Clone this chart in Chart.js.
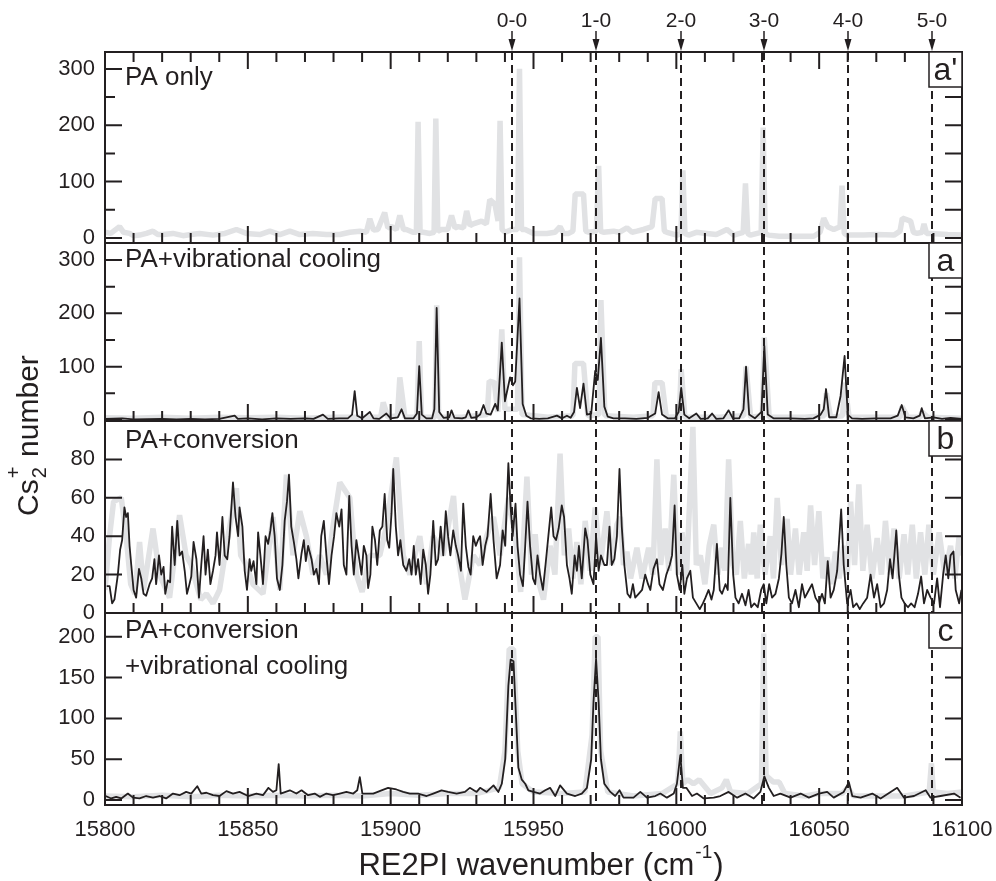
<!DOCTYPE html>
<html>
<head>
<meta charset="utf-8">
<script src="https://cdn.jsdelivr.net/npm/chart.js@4.4.1/dist/chart.umd.min.js"></script>
<style>
  html, body { margin: 0; padding: 0; background: #fff; }
</style>
</head>
<body>
<canvas id="spectra" width="996" height="881"></canvas>
<script>
// wavenumber axis
const xTickValues = [15800, 15850, 15900, 15950, 16000, 16050, 16100];
const bandLabels = ["0-0", "1-0", "2-0", "3-0", "4-0", "5-0"];
const bandPositions = [15942.5, 15971.8, 16001.5, 16030.8, 16060.1, 16089.5];

// y tick values per panel (top to bottom)
const ticksA1 = [0, 100, 200, 300];
const ticksA = [0, 100, 200, 300];
const ticksB = [0, 20, 40, 60, 80];
const ticksC = [0, 50, 100, 150, 200];

// a' : PA only (grey)
const aPrimeGrey = [
  [15800,10],[15802,8],[15805.1,20],[15806.5,10],[15808.6,8],[15810,4],[15812.1,5],[15814.5,8],[15816.8,12],[15818.5,6],
  [15820.3,6],[15823.8,8],[15827.3,4],[15830,6],[15833.1,8],[15837.8,5],[15842,8],[15846,15],[15849.5,8],[15854.2,6],
  [15857.7,12],[15861.2,6],[15864.7,12],[15868.2,6],[15872.8,8],[15877.5,6],[15882.2,6],[15885.7,10],[15889.2,12],[15891.5,10],
  [15892.7,34],[15894,14],[15895.5,15],[15897.9,45],[15899,18],[15900.3,20],[15902,15],[15903.2,40],[15904.5,15],[15905.5,15],
  [15907.8,10],[15909,10],[15909.6,206],[15910.3,10],[15911.4,10],[15913.7,8],[15915.2,10],[15915.8,212],[15916.5,12],[15917.8,15],
  [15920,15],[15921.3,40],[15922.5,18],[15923.6,20],[15925.5,18],[15926.6,48],[15927.8,22],[15928.9,25],[15931.8,30],[15933.5,25],
  [15934.7,68],[15936.5,60],[15937.6,30],[15938.3,208],[15939,15],[15940.1,10],[15942.4,15],[15944.4,15],[15945.1,300],[15945.8,15],
  [15947.1,15],[15950,8],[15954.7,8],[15957.5,10],[15959.3,20],[15960.5,8],[15962.3,8],[15963.8,12],[15964.6,78],[15967.5,78],
  [15968.3,12],[15969.3,10],[15972,12],[15972.8,128],[15973.5,12],[15974.5,10],[15978,12],[15980,10],[15982.7,18],[15984.5,10],
  [15986.2,12],[15988.5,15],[15991.5,20],[15992.6,70],[15995,70],[15995.8,12],[15996.7,10],[16000.2,5],[16001.6,8],[16002.3,120],
  [16003,8],[16004.3,5],[16007,10],[16010.7,8],[16014,6],[16017.7,15],[16020.1,5],[16023.4,10],[16024.2,97],[16025,8],
  [16025.9,5],[16029.7,10],[16030.4,196],[16031.1,8],[16032.3,5],[16036,3],[16042.3,3],[16048.1,3],[16050.3,10],[16051.6,35],
  [16053,20],[16055.1,15],[16057.3,20],[16058,93],[16058.8,8],[16059.8,5],[16065.6,5],[16070,6],[16076.2,5],[16078.3,12],
  [16079.1,35],[16082,30],[16083,10],[16084.3,8],[16086,10],[16086.7,25],[16087.6,8],[16089,8],[16095,6],[16100,5]
];

// a : PA + vibrational cooling
const aGrey = [
  [15800,4],[15810,3],[15820,5],[15830,3],[15840,5],[15850,4],[15860,5],[15870,3],[15880,5],[15890,5],
  [15896.5,5],[15897.4,33],[15899,5],[15902.4,8],[15903.2,80],[15905,5],[15909.2,5],[15910,148],[15910.8,5],[15915.5,5],
  [15916.1,215],[15916.8,5],[15925,5],[15930,8],[15933.8,10],[15934.5,73],[15936.3,70],[15937.5,15],[15938.9,170],[15940,20],
  [15944.4,20],[15945.1,305],[15946,10],[15955,5],[15963.8,8],[15964.5,106],[15967.5,106],[15969,8],[15972.9,10],[15973.6,225],
  [15975,8],[15985,5],[15991.8,8],[15992.5,70],[15995,70],[15996.5,5],[16001,6],[16001.7,95],[16003,5],[16015,5],
  [16023.6,8],[16024.4,100],[16026,5],[16030.1,8],[16030.8,155],[16032.5,5],[16045,5],[16051.8,8],[16052.5,50],[16054,5],
  [16058.2,8],[16058.9,70],[16060.5,5],[16070,5],[16078.3,5],[16079,25],[16081,5],[16085.3,5],[16086,15],[16088,5],[16100,3]
];
const aBlack = [
  [15800,2],[15806,3],[15810,1],[15820,2],[15825,1],[15830,2],[15835,1],[15840,2],[15845.4,8],[15846.5,2],
  [15850,3],[15855,1],[15860,3],[15865,2],[15870,3],[15873,2],[15876.3,10],[15878,2],[15882,3],[15885,3],
  [15886.5,10],[15887.4,54],[15888.3,8],[15890,3],[15892.7,15],[15894,3],[15896,2],[15898.5,12],[15900,3],[15902.5,5],
  [15903.8,20],[15905,3],[15908,3],[15909.2,12],[15910,101],[15910.9,10],[15912.5,3],[15914.5,3],[15915.3,20],[15916.1,210],
  [15917,15],[15918.5,4],[15920.5,5],[15921.3,18],[15922.3,4],[15925,3],[15926.3,5],[15927.2,18],[15928.2,4],[15930,5],
  [15931.3,10],[15932.5,28],[15933.5,12],[15935,10],[15936.6,30],[15937.5,18],[15938.9,145],[15940,35],[15941,60],[15941.8,80],
  [15942.8,65],[15943.6,72],[15945.1,228],[15946.2,30],[15947.5,8],[15949,3],[15952,2],[15955,3],[15958.2,8],[15960,3],
  [15961.7,8],[15963,4],[15964.2,15],[15965.2,60],[15966.3,22],[15967.5,68],[15968.7,10],[15970.2,12],[15971.6,92],[15972.5,75],
  [15973.6,154],[15974.8,25],[15976,6],[15978,3],[15982,3],[15986,2],[15990,4],[15992.6,12],[15993.8,52],[15995,10],
  [15997,3],[15999.5,3],[16000.8,15],[16001.7,60],[16002.8,10],[16004.5,3],[16007,12],[16008.5,2],[16011,3],[16012.5,12],
  [16014,2],[16016.5,3],[16018.3,18],[16019.8,3],[16022,3],[16023.5,20],[16024.4,100],[16025.5,10],[16027.5,3],[16029.8,15],
  [16030.8,139],[16032,10],[16034,3],[16040,3],[16045,2],[16048,3],[16050.5,10],[16051.6,20],[16052.4,58],[16053.5,5],
  [16056,5],[16057.5,45],[16058.9,120],[16060,10],[16061.5,3],[16065,2],[16070,3],[16075,3],[16077.5,8],[16078.9,28],
  [16080.2,5],[16083,3],[16085.2,8],[16085.9,22],[16087,3],[16090,5],[16093,2],[16096,4],[16100,2]
];

// b : PA + conversion
const bGrey = [
  [15800,12],[15801.6,40],[15803,58],[15805.7,60],[15807.4,40],[15809,15],[15810.5,10],[15812.1,37],[15813.5,12],[15816.8,44],
  [15819.1,20],[15822.6,8],[15826.1,51],[15828.4,30],[15830.2,25],[15832,15],[15833.5,7],[15835.5,10],[15837.8,5],[15840.1,12],
  [15842.5,35],[15846,65],[15847.5,30],[15849.5,25],[15851.8,15],[15855.3,10],[15858.8,50],[15861.2,12],[15863.5,72],[15865.8,30],
  [15868.2,53],[15870.5,40],[15872.8,20],[15875.2,30],[15877.5,20],[15879.8,45],[15882.2,68],[15885.7,60],[15888,20],[15890,11],
  [15892.7,30],[15896.2,30],[15898.5,45],[15902,81],[15904.4,30],[15906.7,20],[15910.2,40],[15912.6,15],[15914.9,40],[15918.4,30],
  [15920.7,50],[15922,61],[15923.5,30],[15926,7],[15928.9,30],[15931.3,25],[15933.6,40],[15936,50],[15938.3,30],[15941.2,60],
  [15943.6,41],[15945.5,11],[15947.7,71],[15949.3,20],[15950.6,41],[15952,15],[15953.5,7],[15955.8,35],[15957.5,20],[15959.3,83],
  [15960.8,30],[15962.3,44],[15963.8,18],[15965.2,37],[15966.6,15],[15968.1,48],[15969.8,22],[15971.6,55],[15973.4,25],[15975.7,53],
  [15977.4,25],[15979.2,46],[15980.4,50],[15981.5,25],[15982.7,32],[15984,18],[15986.2,34],[15988,18],[15990.3,34],[15991.8,20],
  [15993.2,80],[15994.5,25],[15996.1,44],[15997.4,22],[15999.1,72],[16000.5,20],[16002,42],[16003.5,18],[16005.8,97],[16007,25],
  [16008.4,30],[16010,15],[16011.5,35],[16013.1,46],[16014.5,20],[16016,34],[16017,22],[16018.3,80],[16019.8,25],[16021,20],
  [16022.4,48],[16023.8,18],[16025.3,36],[16026.2,20],[16027.1,42],[16028.3,18],[16029.4,46],[16031,20],[16032.9,40],[16034,18],
  [16035.3,60],[16036.8,25],[16038.8,49],[16040,20],[16041.7,44],[16043,20],[16044.6,42],[16045.8,22],[16047,56],[16048.4,25],
  [16049.9,53],[16051.3,18],[16052.8,29],[16054.2,15],[16055.7,32],[16057,18],[16058.6,35],[16059.8,20],[16061,58],[16062.4,25],
  [16063.9,67],[16065.3,22],[16066.8,46],[16068.5,18],[16070.3,39],[16071.8,20],[16073.2,48],[16074.8,20],[16076.2,44],[16078,18],
  [16079.7,41],[16081,20],[16082.6,46],[16084,18],[16085.5,42],[16087,20],[16088.4,46],[16090,20],[16092,42],[16094,20],
  [16096,35],[16097.5,18],[16099,40],[16100,30]
];
const bBlack = [
  [15800.6,14],[15801.6,14],[15802.5,5],[15803.3,7],[15804.5,20],[15805.3,33],[15806,38],[15806.8,55],[15807.4,50],[15808,52],
  [15808.6,35],[15809.2,25],[15810,12],[15810.9,8],[15811.9,23],[15812.7,18],[15813.5,10],[15814.4,9],[15815.6,15],[15816.5,18],
  [15817.3,28],[15817.9,15],[15818.9,30],[15819.7,20],[15820.5,24],[15821.1,10],[15822,17],[15822.8,16],[15823.5,45],[15824.4,25],
  [15825.3,48],[15826.1,30],[15827,32],[15827.9,22],[15828.7,10],[15829.4,14],[15830.2,19],[15831,37],[15832,28],[15832.9,8],
  [15833.7,25],[15834.5,40],[15835.2,20],[15836,33],[15836.9,15],[15837.8,22],[15838.7,30],[15839.2,42],[15840.1,25],[15841.1,50],
  [15841.9,30],[15842.8,28],[15843.6,40],[15844.8,68],[15845.7,50],[15846.6,40],[15847.1,55],[15848.1,45],[15848.9,22],[15849.7,12],
  [15850.6,28],[15851.2,22],[15852,27],[15853,15],[15853.6,42],[15854.4,30],[15855.3,15],[15856.2,40],[15857.1,36],[15857.9,43],
  [15858.6,52],[15859.4,40],[15860.2,18],[15861.2,12],[15862.1,25],[15862.9,48],[15863.7,58],[15864.4,72],[15865.2,45],[15866.1,37],
  [15867,28],[15867.7,18],[15868.8,31],[15869.6,38],[15870.3,27],[15871.1,35],[15872.3,28],[15873.1,20],[15874,23],[15874.9,15],
  [15875.7,40],[15876.6,48],[15877.5,30],[15878.4,15],[15879.3,30],[15880.2,40],[15881,52],[15882,45],[15882.8,54],[15883.6,25],
  [15884.5,20],[15885.5,61],[15886.3,35],[15887.1,20],[15888,38],[15889,28],[15889.8,20],[15890.6,35],[15891.5,30],[15892.1,13],
  [15892.9,20],[15893.6,45],[15894.5,38],[15895.3,25],[15896.2,43],[15897.1,45],[15897.9,62],[15898.8,38],[15899.5,34],[15900.3,52],
  [15900.9,75],[15901.8,45],[15902.6,30],[15903.4,38],[15904.4,25],[15905.5,22],[15906.5,28],[15907.3,20],[15908.1,35],[15908.8,20],
  [15909.6,28],[15910.5,15],[15911.4,33],[15912.3,25],[15913.1,10],[15913.9,20],[15914.9,48],[15915.8,25],[15916.6,28],[15917.5,45],
  [15918.4,30],[15919.3,53],[15920.1,40],[15920.9,30],[15921.9,43],[15922.8,35],[15923.6,30],[15924.6,22],[15925.4,57],[15926.3,35],
  [15927.2,24],[15928,20],[15928.9,40],[15929.8,35],[15930.6,38],[15931.3,40],[15932.2,25],[15933.1,35],[15933.9,40],[15935,62],
  [15936,38],[15937.1,18],[15938.3,25],[15939.2,43],[15940.1,35],[15941.2,78],[15942,55],[15942.7,40],[15943.7,57],[15944.4,35],
  [15945.3,20],[15946.3,14],[15947.1,35],[15947.9,58],[15948.8,35],[15949.8,18],[15950.6,15],[15951.4,30],[15952.3,20],[15953.3,12],
  [15954.2,25],[15955.2,40],[15956.2,55],[15957,40],[15957.9,38],[15958.8,44],[15959.9,56],[15960.7,50],[15961.7,25],[15962.6,18],
  [15963.4,10],[15964.4,30],[15965.2,22],[15965.9,35],[15966.9,18],[15968.1,44],[15968.9,38],[15969.9,20],[15971,15],[15971.9,40],
  [15972.8,22],[15973.6,30],[15974.8,25],[15975.7,25],[15976.6,45],[15977.4,25],[15978.3,28],[15979.2,40],[15980.1,75],[15980.9,45],
  [15981.8,25],[15982.9,10],[15983.9,8],[15984.8,15],[15985.6,8],[15986.8,10],[15988,12],[15989.1,20],[15990.1,15],[15990.9,12],
  [15992,23],[15993.2,28],[15994.1,15],[15995.3,12],[15996.5,20],[15997.7,25],[15998.5,30],[15999.4,56],[16000.2,20],[16001.2,12],
  [16002.1,25],[16002.8,10],[16003.7,18],[16004.9,22],[16005.8,8],[16007,5],[16008.2,2],[16009.3,5],[16010.2,8],[16011.3,12],
  [16012.3,7],[16013.1,12],[16014.2,36],[16015.2,12],[16016,10],[16017.2,15],[16018,12],[16018.9,60],[16019.9,20],[16020.7,8],
  [16021.8,5],[16023,10],[16024.2,4],[16025.3,12],[16026.2,3],[16027.3,5],[16028.5,3],[16029.7,12],[16030.6,15],[16031.5,5],
  [16032.5,15],[16033.5,8],[16034.7,10],[16035.9,18],[16036.8,31],[16037.6,50],[16038.5,25],[16039.4,8],[16040.5,5],[16041.7,12],
  [16042.9,3],[16044,15],[16045,8],[16046.4,12],[16047.5,15],[16048.7,8],[16049.9,5],[16051,10],[16052,5],[16053,27],
  [16054,8],[16055.1,12],[16056.3,22],[16057.7,54],[16058.6,25],[16059.8,5],[16061,12],[16061.9,3],[16063.1,5],[16064.2,2],
  [16065.4,5],[16066.8,8],[16068,20],[16069.2,8],[16070.3,15],[16071.5,3],[16072.7,5],[16073.8,12],[16074.8,28],[16075.7,18],
  [16077,43],[16077.9,20],[16078.8,8],[16079.9,5],[16081.1,3],[16082.2,5],[16083.4,3],[16084.6,10],[16085.7,19],[16086.7,5],
  [16087.8,12],[16089,8],[16090.2,5],[16091.3,18],[16092.3,3],[16093.4,20],[16094.3,30],[16095.2,18],[16096,30],[16097,32],
  [16097.8,12],[16099,5],[16099.8,12]
];

// c : PA + conversion + vibrational cooling
const cGrey = [
  [15800,5],[15810,4],[15820,6],[15830,4],[15840,6],[15850,5],[15860,6],[15870,5],[15880,6],[15890,5],
  [15900,8],[15910,6],[15920,8],[15930,8],[15938,15],[15940,60],[15941.5,185],[15943,185],[15944.5,60],[15946,20],
  [15950,10],[15960,8],[15968,10],[15970.5,80],[15971.6,200],[15972.6,200],[15973.5,60],[15976,10],[15985,5],[15995,8],
  [16000.5,20],[16001.4,84],[16002.3,20],[16004,25],[16006,20],[16008,25],[16012,8],[16016,15],[16017.5,25],[16019,10],
  [16025,8],[16029.8,20],[16030.6,204],[16031.4,30],[16034,22],[16036,22],[16038,8],[16045,5],[16050,8],[16058,8],
  [16060,15],[16062,5],[16070,5],[16080,5],[16088.5,10],[16089.3,45],[16090,10],[16095,8],[16100,10]
];
const cBlack = [
  [15800.2,5],[15802.2,2],[15803.9,4],[15805.7,2],[15808,8],[15809.8,3],[15812.1,2],[15814.4,5],[15816.8,3],[15819.1,5],
  [15821.4,2],[15823.8,8],[15826.1,6],[15828.4,10],[15830.2,8],[15832.3,17],[15833.7,8],[15835.5,9],[15837.8,6],[15840.1,5],
  [15842.5,11],[15844.8,8],[15847.1,10],[15850.1,5],[15853,8],[15855.3,6],[15857.2,15],[15858.8,10],[15860,12],[15860.8,44],
  [15861.5,8],[15864.7,12],[15867,8],[15868.8,12],[15871.1,6],[15873.4,8],[15875.2,4],[15877.5,8],[15879.8,6],[15882.2,8],
  [15884.5,10],[15886.9,8],[15888.3,12],[15889.2,28],[15890.1,8],[15893.9,8],[15896.8,12],[15899.1,15],[15902,13],[15904.4,10],
  [15906.7,8],[15909.6,8],[15912.6,5],[15914.9,8],[15917.8,12],[15920.1,10],[15923.1,8],[15926,10],[15927.7,15],[15930.1,10],
  [15931.3,15],[15933.6,10],[15936,18],[15937.7,10],[15938.9,20],[15940.1,50],[15941.2,140],[15942,172],[15943,170],[15943.9,100],
  [15944.7,40],[15945.9,25],[15947.1,20],[15948.2,12],[15950,10],[15952.3,8],[15954.1,12],[15955.8,15],[15957.6,5],[15959.3,18],
  [15961.7,8],[15964.6,5],[15966.9,8],[15968.7,15],[15970.2,50],[15971,120],[15971.9,173],[15972.8,120],[15973.6,50],[15974.8,20],
  [15976.9,10],[15978.6,5],[15980.1,12],[15981.5,3],[15985,3],[15987.4,10],[15989.7,3],[15992.6,5],[15994.4,8],[15996.7,3],
  [15999.1,8],[16000.2,20],[16001.4,55],[16002.3,15],[16003.5,15],[16005.5,5],[16007.2,8],[16009.6,2],[16013.1,3],[16015.4,5],
  [16018.3,10],[16021.3,3],[16024.2,8],[16027.1,2],[16029.4,10],[16030.8,29],[16032.4,15],[16034.1,5],[16036.4,8],[16040,3],
  [16043.5,8],[16046.4,3],[16049.9,8],[16052.8,10],[16055.1,3],[16058.6,10],[16060.4,22],[16061.6,5],[16064.5,3],[16068.6,8],
  [16071.5,2],[16077.3,15],[16079.7,3],[16083.2,5],[16087.3,12],[16089,3],[16092.5,5],[16097.2,8],[16099.5,3]
];

const FONT = "'Liberation Sans', Arial, Helvetica, sans-serif";
const INK = "#231f20";
const GREY = "#e1e2e4";

// panels from top to bottom
const panels = [
  { id: "yA1", min: -9, max: 330, ticks: ticksA1, minor: [50, 150, 250], weight: 191, tag: "a'",
    lines: [["PA only", 33]] },
  { id: "yA", min: -2, max: 332, ticks: ticksA, minor: [50, 150, 250], weight: 178, tag: "a",
    lines: [["PA+vibrational cooling", 24]] },
  { id: "yB", min: 0, max: 100, ticks: ticksB, minor: [], weight: 192, tag: "b",
    lines: [["PA+conversion", 27]] },
  { id: "yC", min: -6, max: 229, ticks: ticksC, minor: [], weight: 192, tag: "c",
    lines: [["PA+conversion", 25], ["+vibrational cooling", 61]] },
];

function yScale(p) {
  return {
    type: "linear",
    position: "left",
    stack: "panels",
    stackWeight: p.weight,
    min: p.min,
    max: p.max,
    grid: { display: false, drawTicks: false },
    border: { display: false },
    afterBuildTicks: (s) => { s.ticks = p.ticks.map((v) => ({ value: v })); },
    afterFit: (s) => { s.width = 105; s.paddingTop = 0; s.paddingBottom = 0; },
    ticks: { color: INK, font: { family: FONT, size: 22 }, padding: 10, autoSkip: false },
  };
}

const toPts = (arr) => arr.map(([x, y]) => ({ x, y }));
const greyLine = (arr, axis) => ({
  data: toPts(arr), yAxisID: axis, borderColor: GREY, borderWidth: 5.5, order: 1,
  pointRadius: 0, borderJoinStyle: "bevel", tension: 0,
});
const blackLine = (arr, axis) => ({
  data: toPts(arr), yAxisID: axis, borderColor: INK, borderWidth: 1.8, order: 0,
  pointRadius: 0, borderJoinStyle: "round", tension: 0,
});

// keep each dataset inside its own panel
const panelClip = {
  id: "panelClip",
  beforeDatasetDraw(chart, args) {
    const s = chart.scales[args.meta.yAxisID];
    const a = chart.chartArea;
    chart.ctx.save();
    chart.ctx.beginPath();
    chart.ctx.rect(a.left, s.top, a.right - a.left, s.bottom - s.top);
    chart.ctx.clip();
  },
  afterDatasetDraw(chart) {
    chart.ctx.restore();
  },
};

const decor = {
  id: "decor",
  afterDatasetsDraw(chart) {
    const { ctx, chartArea: a, scales } = chart;
    const x = scales.x;
    ctx.save();
    ctx.strokeStyle = INK;
    ctx.fillStyle = INK;

    // dashed band lines
    ctx.lineWidth = 2;
    ctx.setLineDash([8, 5]);
    bandPositions.forEach((v) => {
      const px = Math.round(x.getPixelForValue(v));
      ctx.beginPath();
      ctx.moveTo(px, a.top);
      ctx.lineTo(px, a.bottom);
      ctx.stroke();
    });
    ctx.setLineDash([]);

    // frames, ticks, tags, labels
    panels.forEach((p, i) => {
      const s = scales[p.id];
      ctx.lineWidth = 2;
      ctx.strokeRect(a.left, s.top, a.right - a.left, s.bottom - s.top);
      ctx.beginPath();
      for (let v = 15810; v < 16100; v += 10) {
        const px = x.getPixelForValue(v);
        const len = v % 50 === 0 ? 17 : 10;
        ctx.moveTo(px, s.bottom);
        ctx.lineTo(px, s.bottom - len);
        if (i === 0) {
          ctx.moveTo(px, s.top);
          ctx.lineTo(px, s.top + len);
        }
      }
      p.ticks.forEach((v) => {
        const py = s.getPixelForValue(v);
        ctx.moveTo(a.left, py); ctx.lineTo(a.left + 17, py);
        ctx.moveTo(a.right, py); ctx.lineTo(a.right - 17, py);
      });
      p.minor.forEach((v) => {
        const py = s.getPixelForValue(v);
        ctx.moveTo(a.left, py); ctx.lineTo(a.left + 10, py);
        ctx.moveTo(a.right, py); ctx.lineTo(a.right - 17, py);
      });
      ctx.stroke();

      // tag box
      const bw = 33, bh = 35, bx = a.right - bw;
      ctx.fillStyle = "#fff";
      ctx.fillRect(bx, s.top, bw, bh);
      ctx.lineWidth = 1.5;
      ctx.strokeRect(bx, s.top, bw, bh);
      ctx.fillStyle = INK;
      ctx.font = `32px ${FONT}`;
      ctx.textAlign = "center";
      ctx.textBaseline = "alphabetic";
      ctx.fillText(p.tag, bx + bw / 2, s.top + 28);

      // panel caption
      ctx.font = `26px ${FONT}`;
      ctx.textAlign = "left";
      p.lines.forEach(([t, dy]) => ctx.fillText(t, a.left + 20, s.top + dy));
    });

    // band labels and arrows on top
    ctx.font = `21px ${FONT}`;
    ctx.textAlign = "center";
    bandPositions.forEach((v, i) => {
      const px = Math.round(x.getPixelForValue(v));
      ctx.fillText(bandLabels[i], px, 27);
      ctx.lineWidth = 1.5;
      ctx.beginPath();
      ctx.moveTo(px, 31);
      ctx.lineTo(px, 42);
      ctx.stroke();
      ctx.beginPath();
      ctx.moveTo(px - 3.5, 39);
      ctx.lineTo(px + 3.5, 39);
      ctx.lineTo(px, 51);
      ctx.closePath();
      ctx.fill();
    });

    // x title
    const main = "RE2PI wavenumber (cm";
    ctx.font = `31px ${FONT}`;
    const wMain = ctx.measureText(main).width;
    const wClose = ctx.measureText(")").width;
    ctx.font = `19px ${FONT}`;
    const wSup = ctx.measureText("-1").width;
    const tx = 540 - (wMain + wSup + wClose) / 2;
    ctx.textAlign = "left";
    ctx.font = `31px ${FONT}`;
    ctx.fillText(main, tx, 875);
    ctx.font = `19px ${FONT}`;
    ctx.fillText("-1", tx + wMain + 1, 858);
    ctx.font = `31px ${FONT}`;
    ctx.fillText(")", tx + wMain + wSup + 2, 875);

    // y title
    ctx.translate(38, 516);
    ctx.rotate(-Math.PI / 2);
    ctx.font = `30px ${FONT}`;
    const wCs = ctx.measureText("Cs").width;
    ctx.fillText("Cs", 0, 0);
    ctx.font = `20px ${FONT}`;
    const w2 = ctx.measureText("2").width;
    ctx.fillText("2", wCs + 1, 8);
    ctx.fillText("+", wCs + 1, -18);
    ctx.font = `30px ${FONT}`;
    ctx.fillText(" number", wCs + w2 + 3, 0);

    ctx.restore();
  },
};

const chart = new Chart(document.getElementById("spectra"), {
  type: "line",
  data: {
    datasets: [
      greyLine(aPrimeGrey, "yA1"),
      greyLine(aGrey, "yA"),
      greyLine(bGrey, "yB"),
      greyLine(cGrey, "yC"),
      blackLine(aBlack, "yA"),
      blackLine(bBlack, "yB"),
      blackLine(cBlack, "yC"),
    ],
  },
  options: {
    responsive: false,
    animation: false,
    devicePixelRatio: 1,
    events: [],
    layout: { padding: { top: 52, right: 34, bottom: 0, left: 0 } },
    plugins: { legend: { display: false }, tooltip: { enabled: false } },
    scales: {
      x: {
        type: "linear",
        position: "bottom",
        min: 15800,
        max: 16100,
        grid: { display: false, drawTicks: false },
        border: { display: false },
        afterBuildTicks: (s) => { s.ticks = xTickValues.map((v) => ({ value: v })); },
        afterFit: (s) => { s.height = 76; s.paddingLeft = 0; s.paddingRight = 0; },
        ticks: {
          color: INK, font: { family: FONT, size: 22 }, padding: 12,
          maxRotation: 0, autoSkip: false, callback: (v) => String(v),
        },
      },
      yC: yScale(panels[3]),
      yB: yScale(panels[2]),
      yA: yScale(panels[1]),
      yA1: yScale(panels[0]),
    },
  },
  plugins: [panelClip, decor],
});
</script>
</body>
</html>
